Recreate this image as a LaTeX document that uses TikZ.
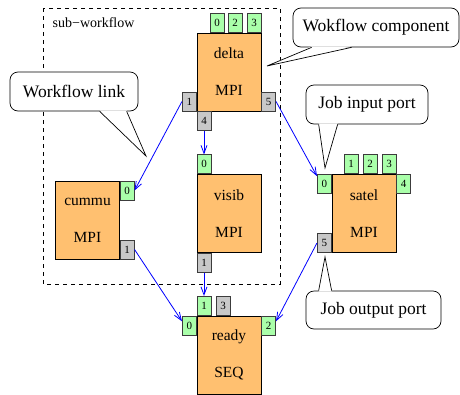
\documentclass[tikz,border=0pt]{standalone}
\usepackage{fontspec}
\setmainfont{Liberation Serif}
\usetikzlibrary{arrows.meta}

\definecolor{jobfill}{RGB}{255,192,112}
\definecolor{inportfill}{RGB}{170,255,170}
\definecolor{outportfill}{RGB}{200,200,200}
\definecolor{portline}{RGB}{60,60,60}

\begin{document}
\begin{tikzpicture}[x=1pt, y=-1pt, line width=0.7pt,
      job/.style={draw, fill=jobfill, minimum width=64pt, minimum height=78pt,
        inner sep=0pt, align=center, font=\fontsize{15.5}{37}\selectfont},
      port/.style={draw=portline, minimum width=14pt, minimum height=19pt,
        inner sep=0pt, font=\fontsize{11}{11}\selectfont},
      inport/.style={port, fill=inportfill},
      outport/.style={port, fill=outportfill},
      link/.style={blue, line width=0.8pt, -{Straight Barb[length=8pt, width=6pt]}},
      note/.style={draw, fill=white, rounded corners=8pt, inner sep=0pt,
        font=\fontsize{17.5}{17.5}\selectfont}]
      \useasboundingbox (0,0) rectangle (460,394);
      \draw[dash pattern=on 4pt off 4pt] (43,8) rectangle (280,284);
      \node[anchor=base west, font=\fontsize{14}{14}\selectfont] (subname) at (49,27) {sub−workflow};
      % jobs
      \node[job] (delta) at (229,72) {delta\\MPI};
      \node[job] (cummu) at (87.5,220) {cummu\\MPI};
      \node[job] (visib) at (229,213.5) {visib\\MPI};
      \node[job] (satel) at (364,213.5) {satel\\MPI};
      \node[job] (ready) at (229,355) {ready\\SEQ};
      % ports
      \node[inport, anchor=south west] (delta-0) at ([xshift=13pt]delta.north west) {0};
      \node[inport, anchor=south west] (delta-2) at ([xshift=31pt]delta.north west) {2};
      \node[inport, anchor=south east] (delta-3) at (delta.north east) {3};
      \node[outport, anchor=south east] (delta-1) at (delta.south west) {1};
      \node[outport, anchor=north west] (delta-4) at (delta.south west) {4};
      \node[outport, anchor=south west] (delta-5) at (delta.south east) {5};
      \node[inport, anchor=north west] (cummu-0) at (cummu.north east) {0};
      \node[outport, anchor=south west] (cummu-1) at (cummu.south east) {1};
      \node[inport, anchor=south west] (visib-0) at (visib.north west) {0};
      \node[outport, anchor=north west] (visib-1) at (visib.south west) {1};
      \node[inport, anchor=south west] (satel-1) at ([xshift=12pt]satel.north west) {1};
      \node[inport, anchor=south west] (satel-2) at ([xshift=31pt]satel.north west) {2};
      \node[inport, anchor=south east] (satel-3) at (satel.north east) {3};
      \node[inport, anchor=north east] (satel-0) at (satel.north west) {0};
      \node[inport, anchor=north west] (satel-4) at (satel.north east) {4};
      \node[outport, anchor=south east] (satel-5) at (satel.south west) {5};
      \node[inport, anchor=south west] (ready-1) at (ready.north west) {1};
      \node[outport, anchor=south west] (ready-3) at ([xshift=19pt]ready.north west) {3};
      \node[inport, anchor=north east] (ready-0) at (ready.north west) {0};
      \node[inport, anchor=north west] (ready-2) at (ready.north east) {2};
      % links
      \draw[link] (delta-1.west) -- (cummu-0.east);
      \draw[link] (delta-4.south) -- (visib-0.north);
      \draw[link] (delta-5.east) -- ([yshift=-2pt]satel-0.north west);
      \draw[link] (cummu-1.east) -- (ready-0.150);
      \draw[link] (visib-1.south) -- (ready-1.north);
      \draw[link] (satel-5.west) -- (ready-2.30);
      % notes
      \node[note, minimum width=128pt, minimum height=39pt] (linknote) at (74,91.5) {Workflow link};
      \coordinate (linktip) at (146,156);
      \fill[white] ([shift={(90pt,1pt)}]linknote.south west) -- (linktip) -- ([shift={(117pt,1pt)}]linknote.south west) -- cycle;
      \draw ([xshift=90pt]linknote.south west) -- (linktip) -- ([xshift=117pt]linknote.south west);
      \node[note, minimum width=166pt, minimum height=39pt] (compnote) at (376,27.5) {Wokflow component};
      \coordinate (comptip) at (267,66);
      \fill[white] ([shift={(19pt,1pt)}]compnote.south west) -- (comptip) -- ([shift={(59pt,1pt)}]compnote.south west) -- cycle;
      \draw ([xshift=19pt]compnote.south west) -- (comptip) -- ([xshift=59pt]compnote.south west);
      \node[note, minimum width=122pt, minimum height=39pt] (innote) at (367,104.5) {Job input port};
      \coordinate (intip) at (325,168);
      \fill[white] ([shift={(13pt,1pt)}]innote.south west) -- (intip) -- ([shift={(32pt,1pt)}]innote.south west) -- cycle;
      \draw ([xshift=13pt]innote.south west) -- (intip) -- ([xshift=32pt]innote.south west);
      \node[note, minimum width=135pt, minimum height=38pt] (outnote) at (373.5,310) {Job output port};
      \coordinate (outtip) at (325,257);
      \fill[white] ([shift={(13pt,-1pt)}]outnote.north west) -- (outtip) -- ([shift={(26pt,-1pt)}]outnote.north west) -- cycle;
      \draw ([xshift=13pt]outnote.north west) -- (outtip) -- ([xshift=26pt]outnote.north west);
    \end{tikzpicture}
\end{document}
